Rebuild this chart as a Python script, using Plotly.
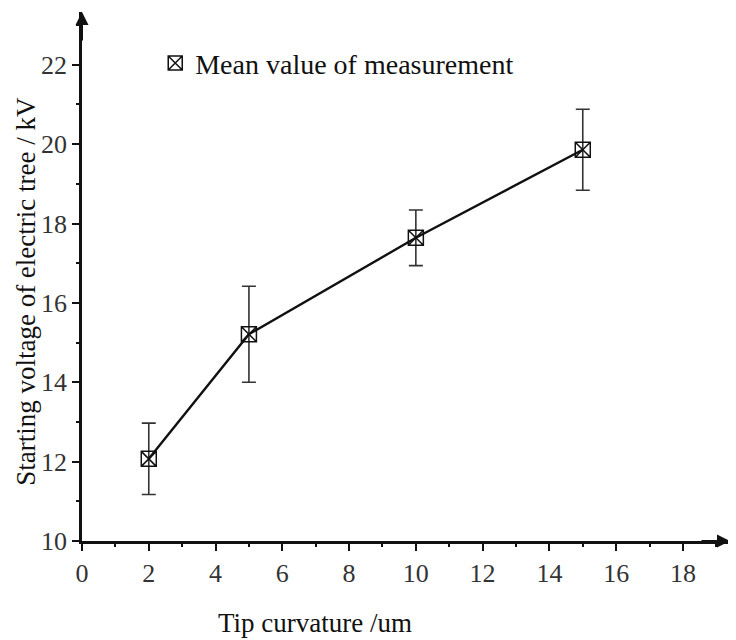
import plotly.graph_objects as go

curvature = [2, 5, 10, 15]
voltage = [12.07, 15.21, 17.64, 19.86]
error = [0.9, 1.21, 0.7, 1.02]
x_ticks = [0, 2, 4, 6, 8, 10, 12, 14, 16, 18]
y_ticks = [10, 12, 14, 16, 18, 20, 22]
legend_label = "Mean value of measurement"
x_title = "Tip curvature /um"
y_title = "Starting voltage of electric tree / kV"

FONT = "Liberation Serif"

fig = go.Figure()
fig.add_trace(go.Scatter(
    x=curvature, y=voltage, mode="lines+markers",
    line=dict(color="#111111", width=2.4),
    marker=dict(symbol="square-x-open", size=15, color="#111111", line=dict(width=1.5)),
    error_y=dict(type="data", array=error, visible=True, color="#333333", thickness=1.6, width=7),
    showlegend=False,
))
fig.add_trace(go.Scatter(
    x=[None], y=[None], mode="markers", name=legend_label,
    marker=dict(symbol="square-x-open", size=14, color="#111111", line=dict(width=1.5)),
))

fig.update_layout(
    width=728, height=632,
    margin=dict(l=74, r=6, t=4, b=99),
    paper_bgcolor="white", plot_bgcolor="white",
    font=dict(family=FONT, color="#222222"),
    legend=dict(x=0.113, y=0.903, xanchor="left", yanchor="middle",
                font=dict(family=FONT, size=28, color="#111111"),
                bgcolor="rgba(0,0,0,0)", itemwidth=30),
    xaxis=dict(range=[0, 19.41], tickvals=x_ticks, ticks="outside", ticklen=7, tickwidth=2,
               tickcolor="#111111", showline=True, linecolor="#111111", linewidth=2.5,
               showgrid=False, zeroline=False,
               minor=dict(dtick=1, ticks="outside", ticklen=3, tickwidth=2, tickcolor="#111111"),
               tickfont=dict(family=FONT, size=26, color="#333333")),
    yaxis=dict(range=[10, 23.33], tickvals=y_ticks, ticks="outside", ticklen=7, tickwidth=2,
               tickcolor="#111111", showline=True, linecolor="#111111", linewidth=2.5,
               showgrid=False, zeroline=False,
               minor=dict(dtick=1, ticks="outside", ticklen=3, tickwidth=2, tickcolor="#111111"),
               tickfont=dict(family=FONT, size=26, color="#333333")),
)

fig.add_annotation(xref="paper", yref="paper", x=0.36, y=0, yshift=-82, xanchor="center", yanchor="middle",
                   text=x_title, showarrow=False, font=dict(family=FONT, size=27, color="#111111"))
fig.add_annotation(xref="paper", yref="paper", x=0, xshift=-56, y=0.471, xanchor="center", yanchor="middle",
                   textangle=-90, text=y_title, showarrow=False, borderpad=0,
                   font=dict(family=FONT, size=27, color="#111111"))

# axis arrows
fig.add_annotation(xref="paper", yref="paper", x=0, y=1.0, ax=0, ay=30, axref="pixel", ayref="pixel",
                   showarrow=True, arrowhead=2, arrowsize=1.3, arrowwidth=2, arrowcolor="#111111", text="")
fig.add_annotation(xref="paper", yref="paper", x=1.0, y=0, ax=-30, ay=0, axref="pixel", ayref="pixel",
                   showarrow=True, arrowhead=2, arrowsize=1.3, arrowwidth=2, arrowcolor="#111111", text="")

fig.write_html("out.html")
